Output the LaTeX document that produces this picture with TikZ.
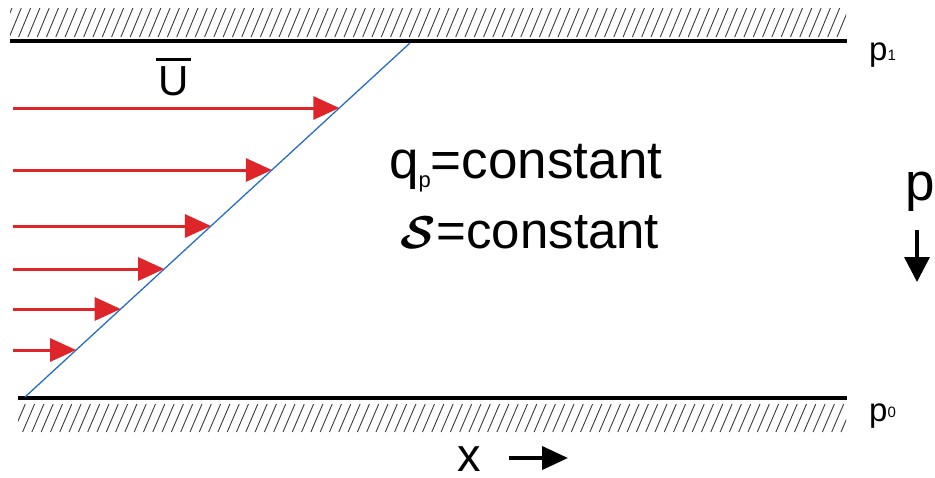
\documentclass[tikz,border=0pt]{standalone}
\usepackage{fontspec}
\usepackage{amsmath}
\setmainfont{Liberation Sans}
\usetikzlibrary{arrows.meta}
\definecolor{flowred}{RGB}{221,37,42}
\definecolor{profblue}{RGB}{40,110,200}
\definecolor{hatchgray}{RGB}{60,60,60}
\tikzset{
  wall/.style={line width=3.5pt,black},
  hatch/.style={line width=0.9pt,hatchgray},
  flow/.style={line width=3pt,flowred,-{Triangle[length=26pt,width=23pt]}},
  profile/.style={line width=1.3pt,profblue},
  bigtxt/.style={font=\fontsize{53}{60}\selectfont,inner sep=0pt,anchor=base west},
  smalltxt/.style={font=\fontsize{33}{36}\selectfont,inner sep=0pt,anchor=base west},
  blackarrow/.style={line width=3.5pt,black,-{Triangle[length=25pt,width=25pt]}}
}
\begin{document}
\begin{tikzpicture}[x=1pt,y=-1pt]
\useasboundingbox[fill=white] (0,0) rectangle (935,477);
% top hatching
\begin{scope}
\clip (10,8) rectangle (846,37);
\foreach \i in {0,...,92} {
  \draw[hatch] ({\i*9.3},37) -- ({\i*9.3+12},8);
}
\end{scope}
% bottom hatching
\begin{scope}
\clip (18,404) rectangle (846,432);
\foreach \i in {0,...,92} {
  \draw[hatch] ({\i*9.3+4},432) -- ({\i*9.3+16},404);
}
\end{scope}
% walls
\coordinate (tw1) at (10,41);
\coordinate (tw2) at (847,41);
\coordinate (bw1) at (18,398);
\coordinate (bw2) at (847,398);
\draw[wall] (tw1) -- (tw2);
\draw[wall] (bw1) -- (bw2);
% profile line
\coordinate (pb) at (25,397);
\coordinate (pt) at (410,43);
\draw[profile] (pb) -- (pt);
% flow arrows
\foreach \y/\n in {108/a,170/b,226/c,269/d,309/e,350/f} {
  \coordinate (s\n) at (13,\y);
  \path (pb) -- (pt) coordinate[pos={(397-\y)/354}] (t\n);
  \draw[flow] (s\n) -- (t\n |- s\n);
}
% U bar
\node[font=\fontsize{42}{48}\selectfont,inner sep=0pt,anchor=base] (U) at (174,95) {U};
\draw[line width=3pt] ([xshift=-3pt,yshift=6pt]U.north west) -- ([xshift=2pt,yshift=6pt]U.north east);
% texts
\node[bigtxt] (q) at (389,178) {q\raisebox{-0.18em}{\fontsize{22}{24}\selectfont p}=constant};
\node[bigtxt,font=\fontsize{51}{58}\selectfont] (s) at (400,248) {\scalebox{1.85}{$\boldsymbol{\mathcal{S}}$}\hspace{1pt}=constant};
\node[bigtxt] (p) at (905,200) {p};
\coordinate (pa1) at (917,230);
\coordinate (pa2) at (917,282);
\draw[blackarrow] (pa1) -- (pa2);
\node[smalltxt] (p1) at (869,60) {p\raisebox{0em}{\fontsize{15}{16}\selectfont 1}};
\node[smalltxt] (p0) at (869,421) {p\raisebox{0.1em}{\fontsize{15}{16}\selectfont 0}};
\node[font=\fontsize{47}{50}\selectfont,inner sep=0pt,anchor=base west] (x) at (457,471) {x};
\coordinate (xa1) at (509,458);
\coordinate (xa2) at (568,458);
\draw[blackarrow,line width=4pt,-{Triangle[length=26pt,width=23pt]}] (xa1) -- (xa2);
\end{tikzpicture}
\end{document}
